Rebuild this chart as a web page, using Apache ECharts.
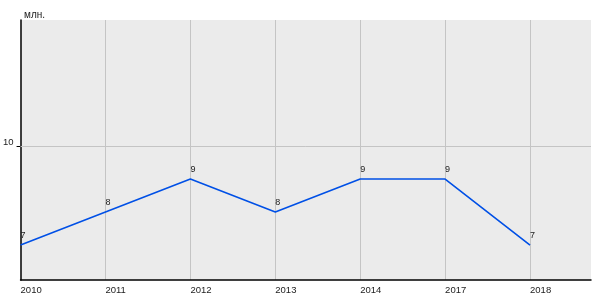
<!DOCTYPE html>
<html><head><meta charset="utf-8">
<script src="https://cdn.jsdelivr.net/npm/echarts@6/dist/echarts.min.js"></script>
<style>html,body{margin:0;padding:0;background:#fff}#c{width:600px;height:300px}</style>
</head><body><div id="c"></div>
<script>
const categories = ['2010','2011','2012','2013','2014','2017','2018'];
const values = [7, 8, 9, 8, 9, 9, 7];
const yTicks = [10];
const unitLabel = 'млн.';

const chart = echarts.init(document.getElementById('c'), null, {renderer:'canvas'});
const seriesData = values.map((v,i)=>[i,v]);
const font = 'Liberation Sans, Arial';
chart.setOption({
  animation:false,
  backgroundColor:'#ffffff',
  title:{text:unitLabel,left:19,top:5,textStyle:{fontSize:10,fontWeight:'normal',color:'#222',fontFamily:font}},
  grid:{left:20,right:9,top:20,bottom:20,show:true,backgroundColor:'#ebebeb',borderWidth:0},
  xAxis:{type:'value',min:0,max:6.718,interval:1,
    axisLine:{show:true,onZero:false,lineStyle:{color:'#000',width:1.5}},
    axisTick:{show:false},
    splitLine:{show:true,showMinLine:false,showMaxLine:false,lineStyle:{color:'#c4c4c4',width:1}},
    axisLabel:{showMaxLabel:false,align:'left',margin:5,fontSize:9.5,color:'#222',fontFamily:font,
      formatter:v=>Number.isInteger(v)&&categories[v]!==undefined?categories[v]:''}
  },
  yAxis:{type:'value',min:5.94,max:13.82,
    axisLine:{show:true,onZero:false,lineStyle:{color:'#000',width:1.5}},
    axisTick:{show:true,length:4,customValues:yTicks,lineStyle:{color:'#000'}},
    splitLine:{show:false},
    axisLabel:{customValues:yTicks,margin:7,fontSize:9.5,color:'#222',verticalAlign:'bottom',lineHeight:8,fontFamily:font}
  },
  series:[{type:'line',data:seriesData,symbol:'circle',symbolSize:0.1,showSymbol:true,
    itemStyle:{color:'#0050e6'},
    lineStyle:{color:'#0050e6',width:1.6},
    label:{show:true,position:'top',align:'left',distance:5,fontSize:9,color:'#222',fontFamily:font,formatter:p=>p.value[1]},
    labelLayout:{hideOverlap:false},
    markLine:{silent:true,symbol:'none',label:{show:false},lineStyle:{color:'#c4c4c4',type:'solid',width:1},
      data:yTicks.map(t=>({yAxis:t}))}
  }]
});
</script></body></html>
